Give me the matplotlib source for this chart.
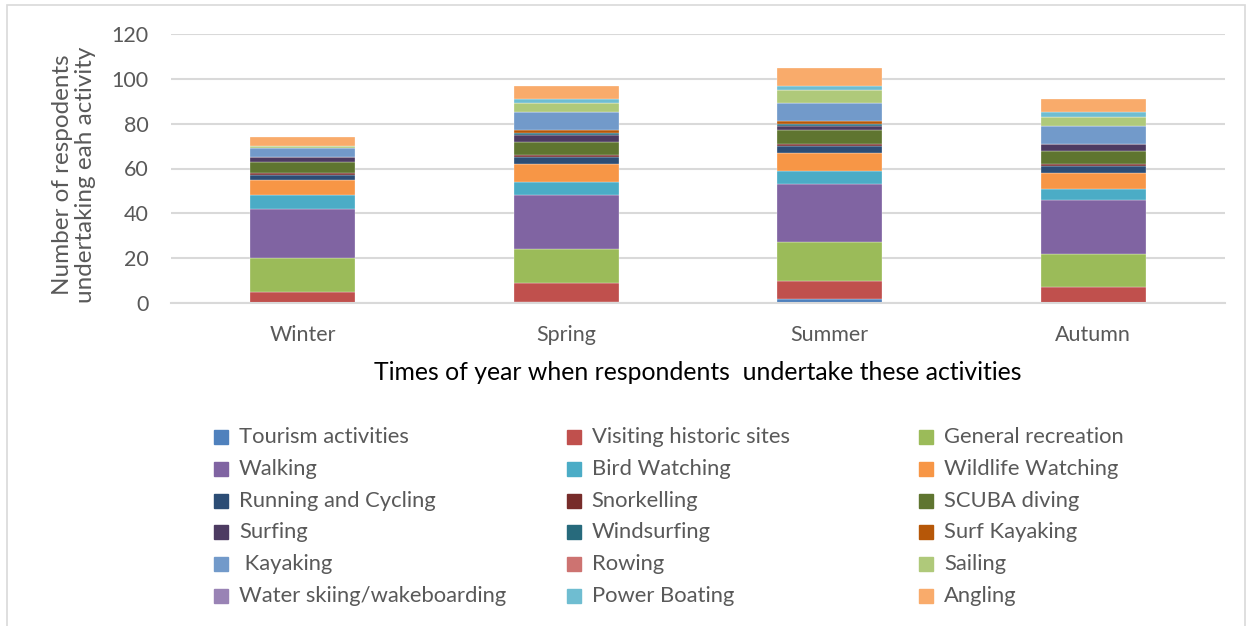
import numpy as np
import matplotlib.pyplot as plt
from matplotlib.patches import Rectangle

plt.rcParams['font.family'] = ['Lato', 'DejaVu Sans']

seasons = ['Winter', 'Spring', 'Summer', 'Autumn']

activities = ['Tourism activities', 'Visiting historic sites', 'General recreation',
              'Walking', 'Bird Watching', 'Wildlife Watching',
              'Running and Cycling', 'Snorkelling', 'SCUBA diving',
              'Surfing', 'Windsurfing', 'Surf Kayaking',
              ' Kayaking', 'Rowing', 'Sailing',
              'Water skiing/wakeboarding', 'Power Boating', 'Angling']

# counts per season (Winter, Spring, Summer, Autumn)
tourism = [0, 0.5, 2, 0]
historic = [5, 8.5, 8, 7]
general = [15, 15, 17, 15]
walking = [22, 24, 26, 24]
bird = [6, 6, 6, 5]
wildlife = [7, 8, 8, 7]
running = [2, 3, 3, 3]
snorkelling = [1, 1, 1, 1]
scuba = [5, 6, 6, 6]
surfing = [2, 3, 2, 3]
windsurfing = [0, 1, 1, 0]
surf_kayaking = [0, 1, 1, 0]
kayaking = [4, 8, 8, 8]
rowing = [0, 0, 0, 0]
sailing = [1, 4, 6, 4]
water_skiing = [0, 0, 0, 0]
power_boating = [0, 2, 2, 2]
angling = [4, 6, 8, 6]

series = [tourism, historic, general, walking, bird, wildlife, running,
          snorkelling, scuba, surfing, windsurfing, surf_kayaking, kayaking,
          rowing, sailing, water_skiing, power_boating, angling]

colors = ['#4F81BD', '#C0504D', '#9BBB59', '#8064A2', '#4BACC6', '#F79646',
          '#2C4D75', '#772C2A', '#5F7530', '#4D3B62', '#276A7C', '#B65708',
          '#729ACA', '#CD7371', '#AFC97A', '#9983B5', '#6FBDD1', '#F9AB6B']

txt = '#595959'
grid = '#D9D9D9'

fig = plt.figure(figsize=(12.52, 6.26), dpi=100)
ax = fig.add_axes([171 / 1252, 1 - 303 / 626, 1054 / 1252, 269 / 626])

x = np.arange(len(seasons))
bottom = np.zeros(len(seasons))
for vals, c in zip(series, colors):
    ax.bar(x, vals, 0.4, bottom=bottom, color=c, edgecolor='white', linewidth=0.2)
    bottom += np.array(vals)

ax.set_xlim(-0.5, 3.5)
ax.set_ylim(0, 120)
ax.set_yticks(range(0, 121, 20))
ax.set_xticks(x)
ax.set_xticklabels(seasons)
ax.yaxis.grid(True, color=grid, linewidth=1.5)
ax.set_axisbelow(True)
for s in ['top', 'right', 'left']:
    ax.spines[s].set_visible(False)
ax.spines['bottom'].set_color(grid)
ax.spines['bottom'].set_linewidth(1.5)
ax.tick_params(axis='both', length=0, labelsize=15.5, colors=txt)
ax.tick_params(axis='y', pad=16)
ax.tick_params(axis='x', pad=16)

fig.text(74 / 1252, 1 - 175 / 626, 'Number of respodents\nundertaking eah activity',
         rotation=90, ha='center', va='center', fontsize=17.5, color=txt, linespacing=1.1)
fig.text(698 / 1252, 1 - 373 / 626, 'Times of year when respondents  undertake these activities',
         ha='center', va='center', fontsize=17.8, color='black')

# legend, filled row by row
for i, (name, c) in enumerate(zip(activities, colors)):
    row, col = divmod(i, 3)
    xm = 214 + col * 352.5
    ym = 437 + row * 31.8
    fig.add_artist(Rectangle((xm / 1252, 1 - (ym + 7) / 626), 14 / 1252, 14 / 626,
                             transform=fig.transFigure, color=c))
    fig.text((xm + 25) / 1252, 1 - ym / 626, name, ha='left', va='center',
             fontsize=15.8, color=txt)

fig.add_artist(Rectangle((7 / 1252, -0.01), 1238 / 1252, 1 - 5 / 626 + 0.01,
                         transform=fig.transFigure, fill=False,
                         edgecolor=grid, linewidth=1.2))

fig.savefig('out.png', dpi=100)
